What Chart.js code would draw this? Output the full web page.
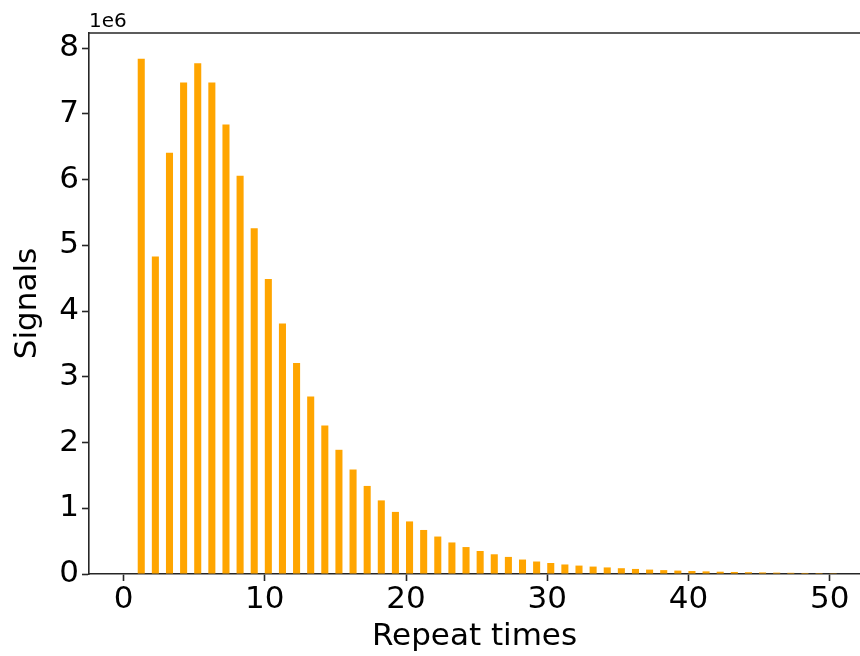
<!DOCTYPE html>
<html>
<head>
<meta charset="utf-8">
<script src="https://cdn.jsdelivr.net/npm/chart.js@4/dist/chart.umd.min.js"></script>
<style>
  html, body { margin: 0; padding: 0; background: #ffffff; overflow: hidden; }
  #wrap { position: relative; width: 860px; height: 656px; }
</style>
</head>
<body>
<div id="wrap"><canvas id="c"></canvas></div>
<script>
// ---- data ----
const repeatTimes = [1,2,3,4,5,6,7,8,9,10,11,12,13,14,15,16,17,18,19,20,
  21,22,23,24,25,26,27,28,29,30,31,32,33,34,35,36,37,38,39,40,
  41,42,43,44,45,46,47,48,49,50];
const signals = [7.84e6,4.83e6,6.41e6,7.48e6,7.77e6,7.48e6,6.84e6,6.06e6,5.26e6,4.49e6,
  3.81e6,3.21e6,2.70e6,2.26e6,1.89e6,1.59e6,1.34e6,1.12e6,0.945e6,0.80e6,
  0.67e6,0.57e6,0.48e6,0.41e6,0.35e6,0.30e6,0.26e6,0.22e6,0.19e6,0.167e6,
  0.145e6,0.128e6,0.113e6,0.100e6,0.088e6,0.077e6,0.067e6,0.059e6,0.052e6,0.046e6,
  0.040e6,0.035e6,0.031e6,0.027e6,0.024e6,0.021e6,0.018e6,0.016e6,0.014e6,0.012e6];
const xTickValues = [0,10,20,30,40,50];
const yTickValues = [0,1e6,2e6,3e6,4e6,5e6,6e6,7e6,8e6];
const yExponent = 6;
const xLabel = 'Repeat times';
const yLabel = 'Signals';

// ---- styling ----
const barWidthUnits = 0.5;           // bars drawn edge-aligned (x .. x+0.5)
const FONT = 'DejaVu Sans';
const FS = 31;
const INK = '#000000';
const SPINE = '#262626';

const points = repeatTimes.map((r, i) => ({ x: r + barWidthUnits / 2, y: signals[i] }));
const yMax = Math.max(...signals) * 1.05;

const framePlugin = {
  id: 'frame',
  afterDraw(chart) {
    const { ctx, chartArea } = chart;
    ctx.save();
    ctx.strokeStyle = SPINE;
    ctx.lineWidth = 1.6;
    ctx.beginPath();
    ctx.moveTo(chartArea.left, chartArea.top);
    ctx.lineTo(chartArea.right, chartArea.top);
    ctx.stroke();
    ctx.fillStyle = INK;
    ctx.font = '20px "' + FONT + '"';
    ctx.textAlign = 'left';
    ctx.textBaseline = 'alphabetic';
    ctx.fillText('1e' + yExponent, chartArea.left, chartArea.top - 6.5);
    ctx.restore();
  }
};

new Chart(document.getElementById('c'), {
  type: 'bar',
  data: {
    datasets: [{
      data: points,
      backgroundColor: '#FFA500',
      borderWidth: 0,
      barPercentage: 0.5,
      categoryPercentage: 1.0
    }]
  },
  plugins: [framePlugin],
  options: {
    responsive: true,
    maintainAspectRatio: false,
    animation: false,
    layout: { padding: { top: 33, left: 0, right: 0, bottom: 0 } },
    plugins: { legend: { display: false }, tooltip: { enabled: false } },
    scales: {
      x: {
        type: 'linear',
        offset: false,
        min: -2.45,
        max: 52.15,
        afterBuildTicks: s => { s.ticks = xTickValues.map(v => ({ value: v })); },
        afterFit: s => { s.height = 82; },
        grid: { display: true, drawOnChartArea: false, drawTicks: true, tickLength: 7,
                tickColor: SPINE, tickWidth: 1.6, offset: false },
        border: { display: true, color: SPINE, width: 1.6 },
        ticks: { color: INK, font: { family: FONT, size: FS }, padding: 0, maxRotation: 0,
                 callback: v => String(v) },
        title: { display: true, text: xLabel, color: INK,
                 font: { family: FONT, size: FS }, padding: { top: 0, bottom: 0 } }
      },
      y: {
        type: 'linear',
        min: 0,
        max: yMax,
        afterBuildTicks: s => { s.ticks = yTickValues.map(v => ({ value: v })); },
        afterFit: s => { s.width = 89; },
        grid: { display: true, drawOnChartArea: false, drawTicks: true, tickLength: 7,
                tickColor: SPINE, tickWidth: 1.6 },
        border: { display: true, color: SPINE, width: 1.6 },
        ticks: { color: INK, font: { family: FONT, size: FS }, padding: 3,
                 callback: v => String(Math.round(v / Math.pow(10, yExponent))) },
        title: { display: true, text: yLabel, color: INK,
                 font: { family: FONT, size: FS }, padding: { top: 9, bottom: 0 } }
      }
    }
  }
});
</script>
</body>
</html>
